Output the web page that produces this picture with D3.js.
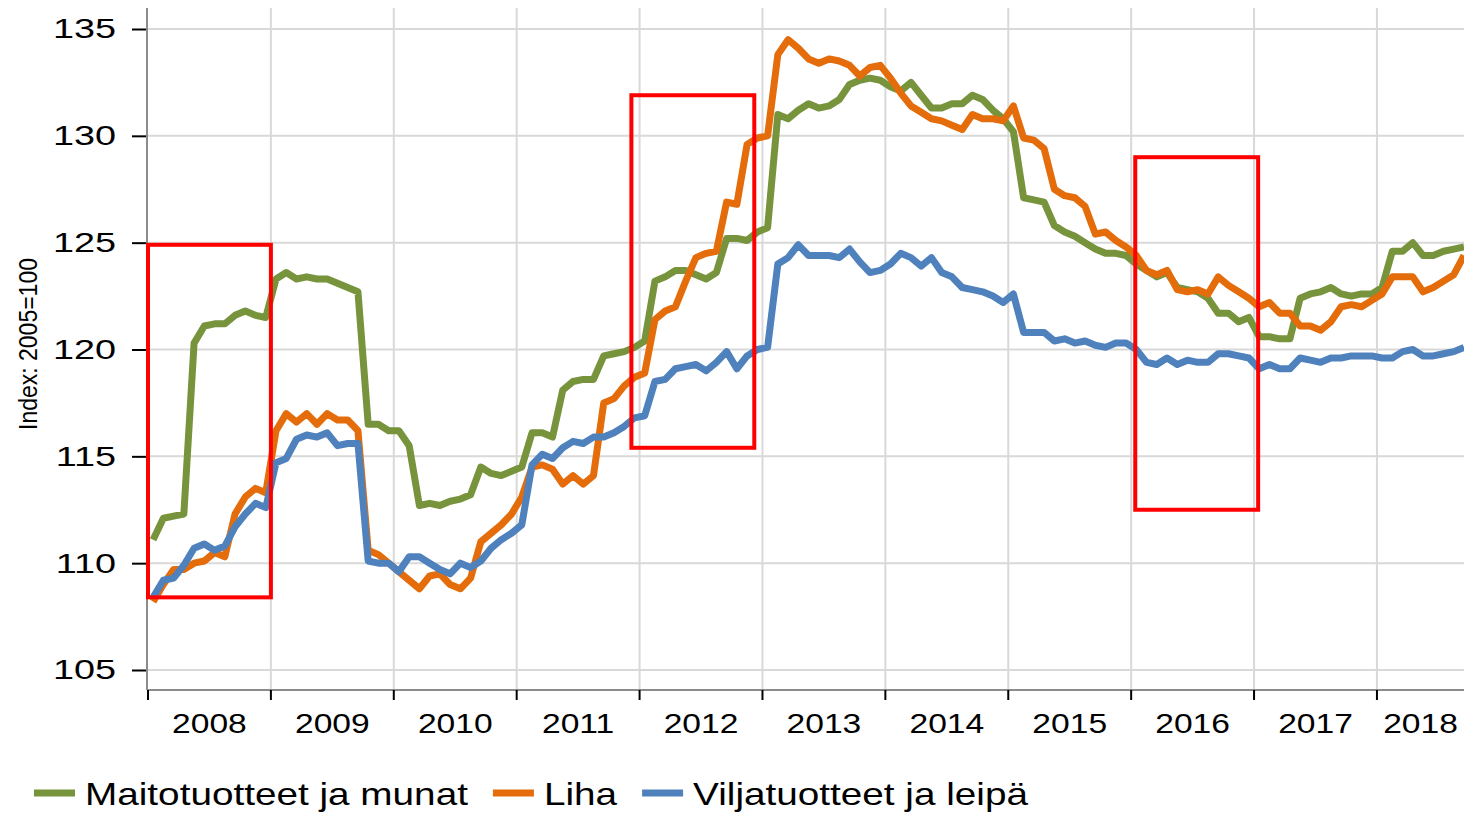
<!DOCTYPE html>
<html>
<head>
<meta charset="utf-8">
<script src="https://cdn.jsdelivr.net/npm/d3@7"></script>
<style>
  html, body { margin: 0; padding: 0; background: #fff; }
  svg { display: block; font-family: "Liberation Sans", Arial, sans-serif; }
</style>
</head>
<body>
<svg id="chart" width="1464" height="814"></svg>
<script>
// year labels, one per 12 monthly points starting Jan 2008
const years = ['2008', '2009', '2010', '2011', '2012', '2013', '2014', '2015', '2016', '2017', '2018'];
const yTicks = [105, 110, 115, 120, 125, 130, 135];
const seriesNames = ['Maitotuotteet ja munat', 'Liha', 'Viljatuotteet ja leipä'];
const seriesColors = ['#77933c', '#e46c0a', '#4f81bd'];

// monthly index values, Jan 2008 - Sep 2018
const dairy = [
	111.1, 112.1, 112.2, 112.3, 120.3, 121.1, 121.2, 121.2, 121.6, 121.8, 121.6, 121.5,
	123.3, 123.6, 123.3, 123.4, 123.3, 123.3, 123.1, 122.9, 122.7, 116.5, 116.5, 116.2,
	116.2, 115.5, 112.7, 112.8, 112.7, 112.9, 113.0, 113.2, 114.5, 114.2, 114.1, 114.3,
	114.5, 116.1, 116.1, 115.9, 118.1, 118.5, 118.6, 118.6, 119.7, 119.8, 119.9, 120.1,
	120.4, 123.2, 123.4, 123.7, 123.7, 123.5, 123.3, 123.6, 125.2, 125.2, 125.1, 125.5,
	125.7, 131.0, 130.8, 131.2, 131.5, 131.3, 131.4, 131.7, 132.4, 132.6, 132.7, 132.6,
	132.3, 132.1, 132.5, 131.9, 131.3, 131.3, 131.5, 131.5, 131.9, 131.7, 131.2, 130.8,
	130.2, 127.1, 127.0, 126.9, 125.8, 125.5, 125.3, 125.0, 124.7, 124.5, 124.5, 124.4,
	124.0, 123.7, 123.4, 123.6, 122.9, 122.8, 122.7, 122.4, 121.7, 121.7, 121.3, 121.5,
	120.6, 120.6, 120.5, 120.5, 122.4, 122.6, 122.7, 122.9, 122.6, 122.5, 122.6, 122.6,
	122.9, 124.6, 124.6, 125.0, 124.4, 124.4, 124.6, 124.7, 124.8
];
const meat = [
	108.2, 109.0, 109.7, 109.7, 110.0, 110.1, 110.5, 110.3, 112.3, 113.1, 113.5, 113.3,
	116.2, 117.0, 116.6, 117.0, 116.5, 117.0, 116.7, 116.7, 116.2, 110.6, 110.4, 110.0,
	109.6, 109.2, 108.8, 109.4, 109.5, 109.0, 108.8, 109.3, 111.0, 111.4, 111.8, 112.3,
	113.1, 114.5, 114.6, 114.4, 113.7, 114.1, 113.7, 114.1, 117.5, 117.7, 118.3, 118.7,
	118.9, 121.4, 121.8, 122.0, 123.2, 124.3, 124.5, 124.6, 126.9, 126.8, 129.6, 129.9,
	130.0, 133.8, 134.5, 134.1, 133.6, 133.4, 133.6, 133.5, 133.3, 132.8, 133.2, 133.3,
	132.7, 132.0, 131.4, 131.1, 130.8, 130.7, 130.5, 130.3, 131.0, 130.8, 130.8, 130.7,
	131.4, 129.9, 129.8, 129.4, 127.5, 127.2, 127.1, 126.7, 125.4, 125.5, 125.1, 124.8,
	124.4, 123.7, 123.5, 123.7, 122.8, 122.7, 122.8, 122.6, 123.4, 123.0, 122.7, 122.4,
	122.0, 122.2, 121.7, 121.7, 121.1, 121.1, 120.9, 121.3, 122.0, 122.1, 122.0, 122.3,
	122.6, 123.4, 123.4, 123.4, 122.7, 122.9, 123.2, 123.5, 124.4
];
const cereal = [
	108.4, 109.2, 109.3, 109.9, 110.7, 110.9, 110.6, 110.8, 111.7, 112.3, 112.8, 112.6,
	114.7, 114.9, 115.8, 116.0, 115.9, 116.1, 115.5, 115.6, 115.6, 110.1, 110.0, 110.0,
	109.6, 110.3, 110.3, 110.0, 109.7, 109.5, 110.0, 109.8, 110.1, 110.7, 111.1, 111.4,
	111.8, 114.6, 115.1, 114.9, 115.4, 115.7, 115.6, 115.9, 115.9, 116.1, 116.4, 116.8,
	116.9, 118.5, 118.6, 119.1, 119.2, 119.3, 119.0, 119.4, 119.9, 119.1, 119.7, 120.0,
	120.1, 124.0, 124.3, 124.9, 124.4, 124.4, 124.4, 124.3, 124.7, 124.1, 123.6, 123.7,
	124.0, 124.5, 124.3, 123.9, 124.3, 123.6, 123.4, 122.9, 122.8, 122.7, 122.5, 122.2,
	122.6, 120.8, 120.8, 120.8, 120.4, 120.5, 120.3, 120.4, 120.2, 120.1, 120.3, 120.3,
	120.0, 119.4, 119.3, 119.6, 119.3, 119.5, 119.4, 119.4, 119.8, 119.8, 119.7, 119.6,
	119.1, 119.3, 119.1, 119.1, 119.6, 119.5, 119.4, 119.6, 119.6, 119.7, 119.7, 119.7,
	119.6, 119.6, 119.9, 120.0, 119.7, 119.7, 119.8, 119.9, 120.1
];

// highlighted periods: [start month, end month, low value, high value]
const boxes = [
	[0, 12, 108.4, 124.9],
	[47.2, 59.2, 115.4, 131.9],
	[96.4, 108.4, 112.5, 129.0]
];

let svg = d3.select('#chart');
let width = +svg.attr('width');

let left = 148;
let x = d3.scaleLinear().domain([0, 128.5]).range([left, width]);
let y = d3.scaleLinear().domain([105, 135]).range([670, 29]);
let yBottom = 690;
let yTop = 8;

// grid
let grid = svg.append('g');
grid.selectAll('.hgrid')
	.data(yTicks)
	.enter().append('line')
	.attr('x1', left).attr('x2', width)
	.attr('y1', (d) => y(d)).attr('y2', (d) => y(d))
	.attr('stroke', '#d9d9d9').attr('stroke-width', 2);
grid.selectAll('.vgrid')
	.data(years.slice(1))
	.enter().append('line')
	.attr('x1', (d, i) => x((i + 1) * 12)).attr('x2', (d, i) => x((i + 1) * 12))
	.attr('y1', yTop).attr('y2', yBottom)
	.attr('stroke', '#d9d9d9').attr('stroke-width', 2);

// y axis (text is stretched sideways like the original export)
let yAxis = svg.append('g')
	.attr('transform', 'translate(' + (left - 1) + ',0)')
	.call(d3.axisLeft(y).tickValues(yTicks).tickSize(15).tickPadding(20));
yAxis.select('.domain').remove();
yAxis.selectAll('line').attr('stroke', '#000').attr('stroke-width', 2);
yAxis.selectAll('text')
	.attr('x', 0)
	.attr('transform', 'translate(-31,0) scale(1.35,1)')
	.attr('font-size', 28).attr('fill', '#000')
	.attr('font-family', '"Liberation Sans", Arial, sans-serif');
svg.append('line')
	.attr('x1', left - 1).attr('x2', left - 1)
	.attr('y1', yTop).attr('y2', yBottom)
	.attr('stroke', '#8c8c8c').attr('stroke-width', 2);

// x axis
svg.append('line')
	.attr('x1', left - 1).attr('x2', width)
	.attr('y1', yBottom).attr('y2', yBottom)
	.attr('stroke', '#8c8c8c').attr('stroke-width', 2);
svg.selectAll('.xtick')
	.data(years)
	.enter().append('line')
	.attr('x1', (d, i) => x(i * 12)).attr('x2', (d, i) => x(i * 12))
	.attr('y1', yBottom).attr('y2', yBottom + 10)
	.attr('stroke', '#000').attr('stroke-width', 2);
svg.selectAll('.xlabel')
	.data(years)
	.enter().append('text')
	.attr('transform', (d, i) => 'translate(' + ((x(i * 12) + Math.min(x(i * 12 + 12), width)) / 2) + ',733) scale(1.2,1)')
	.attr('text-anchor', 'middle')
	.attr('font-size', 28)
	.text((d) => d);

// y title
svg.append('text')
	.attr('transform', 'translate(37,344) scale(1.15,1) rotate(-90)')
	.attr('text-anchor', 'middle')
	.attr('font-size', 23)
	.text('Index: 2005=100');

// lines
let line = d3.line()
	.x((d, i) => x(i + 0.5))
	.y((d) => y(d));
[dairy, meat, cereal].forEach((s, k) => {
	svg.append('path')
		.datum(s)
		.attr('fill', 'none')
		.attr('stroke', seriesColors[k])
		.attr('stroke-width', 7)
		.attr('stroke-linejoin', 'round')
		.attr('d', line);
});

// red highlight boxes
svg.selectAll('.box')
	.data(boxes)
	.enter().append('rect')
	.attr('x', (d) => x(d[0]))
	.attr('y', (d) => y(d[3]))
	.attr('width', (d) => x(d[1]) - x(d[0]))
	.attr('height', (d) => y(d[2]) - y(d[3]))
	.attr('fill', 'none')
	.attr('stroke', '#ff0000')
	.attr('stroke-width', 4);

// legend
let sx = 1.21;
let legend = svg.append('g').attr('transform', 'translate(34,793)');
let lx = 0;
seriesNames.forEach((name, k) => {
	legend.append('line')
		.attr('x1', lx).attr('x2', lx + 41)
		.attr('y1', 0).attr('y2', 0)
		.attr('stroke', seriesColors[k]).attr('stroke-width', 7);
	let t = legend.append('text')
		.attr('transform', 'translate(' + (lx + 51) + ',12) scale(' + sx + ',1)')
		.attr('font-size', 32)
		.text(name);
	lx += 51 + t.node().getComputedTextLength() * sx + 25;
});
</script>
</body>
</html>
